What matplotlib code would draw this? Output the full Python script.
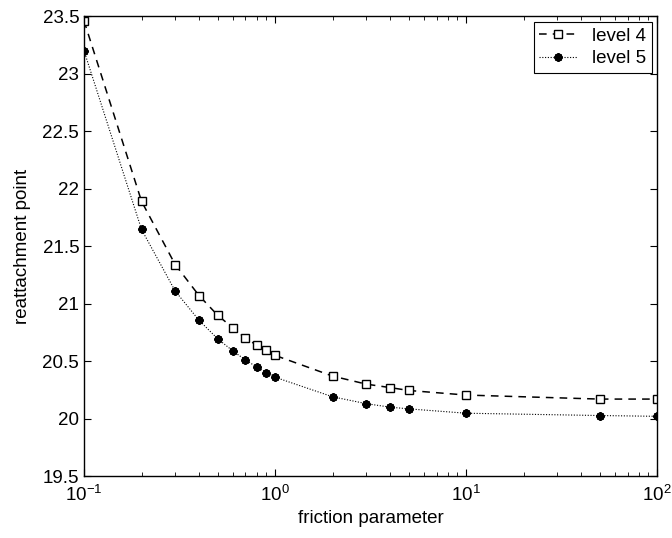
import matplotlib
matplotlib.use('Agg')
import matplotlib.pyplot as plt

plt.rcParams['font.family'] = ['Liberation Sans', 'DejaVu Sans']
plt.rcParams['mathtext.fontset'] = 'custom'
plt.rcParams['mathtext.rm'] = 'Liberation Sans'

# friction parameter values
friction = [0.1, 0.2, 0.3, 0.4, 0.5, 0.6, 0.7, 0.8, 0.9, 1, 2, 3, 4, 5, 10, 50, 100]
# reattachment point
level4 = [23.46, 21.89, 21.34, 21.07, 20.90, 20.79, 20.70, 20.64, 20.60, 20.55,
          20.37, 20.30, 20.27, 20.245, 20.205, 20.17, 20.17]
level5 = [23.20, 21.645, 21.11, 20.855, 20.695, 20.59, 20.51, 20.45, 20.40, 20.36,
          20.19, 20.13, 20.10, 20.085, 20.047, 20.027, 20.02]

fig = plt.figure(figsize=(6.72, 5.38), dpi=100)
ax = fig.add_axes([0.125, 0.115, 0.853, 0.855])

ax.plot(friction, level4, color='black', linestyle=(0, (5, 4)), linewidth=1.1,
        marker='s', markersize=5.5, markerfacecolor='white', markeredgecolor='black',
        markeredgewidth=1.0, label='level 4')
ax.plot(friction, level5, color='black', linestyle=(0, (1, 1.5)), linewidth=0.8,
        marker=(8, 2, 0), markersize=6, markeredgewidth=1.6,
        markeredgecolor='black', label='level 5')

ax.set_xscale('log')
ax.set_xlim(0.1, 100)
ax.set_ylim(19.5, 23.5)
ax.set_yticks([19.5, 20, 20.5, 21, 21.5, 22, 22.5, 23, 23.5])
ax.set_yticklabels(['19.5', '20', '20.5', '21', '21.5', '22', '22.5', '23', '23.5'])

ax.tick_params(which='both', direction='in', top=True, right=True, labelsize=13.5)
ax.tick_params(which='major', length=5, width=0.8)
ax.tick_params(which='minor', length=3, width=0.6)
ax.tick_params(axis='x', which='major', pad=6)
for s in ax.spines.values():
    s.set_linewidth(1.0)

ax.set_xlabel('friction parameter', fontsize=13.5)
ax.set_ylabel('reattachment point', fontsize=13.5, labelpad=8)

leg = ax.legend(loc='upper right', fontsize=13.5, frameon=True, fancybox=False,
                edgecolor='black', framealpha=1, handlelength=2.0,
                borderaxespad=0.3, handletextpad=0.8, borderpad=0.3,
                labelspacing=0.3)
leg.get_frame().set_linewidth(0.8)

fig.savefig('out.png', dpi=100)
